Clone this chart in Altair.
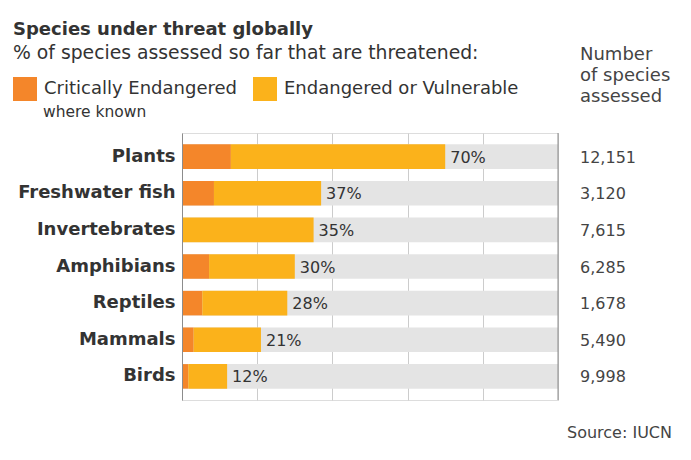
import altair as alt
import pandas as pd

species = ["Plants", "Freshwater fish", "Invertebrates", "Amphibians", "Reptiles", "Mammals", "Birds"]
critical = [13.0, 8.5, 0.0, 7.2, 5.4, 3.1, 1.7]
threatened_total = [70, 37, 35, 30, 28, 21, 12]
assessed = ["12,151", "3,120", "7,615", "6,285", "1,678", "5,490", "9,998"]
categories = ["Critically Endangered", "Endangered or Vulnerable"]
colors = ["#f4862a", "#fbb21b"]
grid_values = [0, 10, 20, 30, 40, 50, 60, 70, 80, 90, 100]
title_text = "Species under threat globally"
subtitle_text = "% of species assessed so far that are threatened:"
header_lines = ["Number", "of species", "assessed"]
legend_note = "where known"
source_text = "Source: IUCN"

FONT = "DejaVu Sans"
TXT = "#333333"

seg_rows = []
for s, c, t in zip(species, critical, threatened_total):
    seg_rows.append({"species": s, "category": categories[0], "start": 0, "end": c})
    seg_rows.append({"species": s, "category": categories[1], "start": c, "end": t})
segments = pd.DataFrame(seg_rows)

base_df = pd.DataFrame({
    "species": species,
    "start": [0] * len(species),
    "end": [100] * len(species),
    "total": threatened_total,
    "label": [f"{v}%" for v in threatened_total],
    "assessed": assessed,
})

yenc = alt.Y(
    "species:N",
    sort=species,
    scale=alt.Scale(paddingInner=0.33, paddingOuter=0.31),
    axis=alt.Axis(
        title=None, ticks=False, labelFont=FONT, labelFontSize=18,
        labelFontWeight="bold", labelColor=TXT, labelPadding=7,
        domainColor="#8c8c8c", domainWidth=1, zindex=1, grid=False,
    ),
)
xscale = alt.Scale(domain=[0, 100], nice=False)

bg = alt.Chart(base_df).mark_bar(color="#e4e4e4").encode(
    y=yenc,
    x=alt.X("start:Q", scale=xscale, axis=alt.Axis(
        title=None, labels=False, ticks=False, domain=False, grid=True,
        values=grid_values, gridColor="#cccccc", gridWidth=1, zindex=0)),
    x2="end:Q",
)

bars = alt.Chart(segments).mark_bar().encode(
    y=alt.Y("species:N", sort=species),
    x=alt.X("start:Q", scale=xscale),
    x2="end:Q",
    color=alt.Color(
        "category:N",
        scale=alt.Scale(domain=categories, range=colors),
        legend=alt.Legend(
            title=None, orient="none", legendX=-169, legendY=-56,
            direction="horizontal", columns=2, symbolType="square",
            symbolSize=576, symbolStrokeWidth=0, symbolOpacity=1,
            labelFont=FONT, labelFontSize=18, labelColor=TXT,
            labelOffset=7, columnPadding=16, padding=0, labelLimit=400,
        ),
    ),
)

pct = alt.Chart(base_df).mark_text(
    align="left", baseline="middle", dx=5, dy=1, font=FONT, fontSize=16, color=TXT
).encode(
    y=alt.Y("species:N", sort=species),
    x=alt.X("total:Q", scale=xscale),
    text="label:N",
)

right_border = alt.Chart(base_df.head(1)).mark_rule(color="#8c8c8c", strokeWidth=1).encode(
    x=alt.datum(100)
)

nums = alt.Chart(base_df).mark_text(
    align="left", baseline="middle", dy=1, font=FONT, fontSize=16, color="#444444"
).encode(
    y=alt.Y("species:N", sort=species),
    x=alt.value(398),
    text="assessed:N",
)

header = alt.Chart(pd.DataFrame({"t": ["Number"]})).mark_text(
    align="left", baseline="alphabetic", font=FONT, fontSize=18, color="#444444",
    text=header_lines, lineHeight=21,
).encode(x=alt.value(398), y=alt.value(-73))

title = alt.Chart(pd.DataFrame({"t": [title_text]})).mark_text(
    align="left", baseline="alphabetic", font=FONT, fontSize=18, fontWeight="bold", color=TXT
).encode(x=alt.value(-169), y=alt.value(-98), text="t:N")

subtitle = alt.Chart(pd.DataFrame({"t": [subtitle_text]})).mark_text(
    align="left", baseline="alphabetic", font=FONT, fontSize=18.8, color=TXT
).encode(x=alt.value(-169), y=alt.value(-74), text="t:N")

where = alt.Chart(pd.DataFrame({"t": [legend_note]})).mark_text(
    align="left", baseline="alphabetic", font=FONT, fontSize=15.5, color=TXT
).encode(x=alt.value(-139), y=alt.value(-16), text="t:N")

source = alt.Chart(pd.DataFrame({"t": [source_text]})).mark_text(
    align="right", baseline="alphabetic", font=FONT, fontSize=16, color="#444444"
).encode(x=alt.value(490), y=alt.value(305), text="t:N")

chart = alt.layer(bg, bars, pct, right_border, nums, header, title, subtitle, where, source).properties(
    width=376,
    height=267,
    autosize=alt.AutoSizeParams(type="none"),
    padding={"left": 174, "top": 125, "right": 125, "bottom": 50},
).configure_view(stroke="#c8c8c8", strokeWidth=1).configure(background="white")

chart.save("out.html", embed_options={"renderer": "svg", "actions": False})
